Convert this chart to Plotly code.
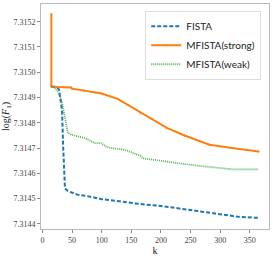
import plotly.graph_objects as go

k_fista = [15, 20, 25, 28, 30, 33, 35, 37, 38, 43, 50, 60, 76, 100, 130, 160, 204, 250, 288, 332, 365]
v_fista = [7.314944, 7.314943, 7.31494, 7.31493, 7.31490, 7.31485, 7.31470, 7.31460, 7.31454,
           7.31453, 7.314523, 7.314515, 7.31451, 7.314498, 7.31449, 7.31448, 7.31447, 7.314455,
           7.31444, 7.314428, 7.314424]

k_strong = [15, 15, 25, 35, 48, 50, 70, 90, 100, 127, 145, 165, 185, 210, 240, 282, 320, 365]
v_strong = [7.31523, 7.314944, 7.314942, 7.314942, 7.31494, 7.314935, 7.314928, 7.31492, 7.314916,
            7.314895, 7.31487, 7.31484, 7.314815, 7.31478, 7.31475, 7.314713, 7.3147, 7.314687]

k_weak = [15, 20, 25, 29, 33, 38, 43, 50, 60, 71, 80, 88, 99, 108, 115, 130, 143, 155, 165, 171,
          204, 230, 260, 290, 321, 340, 365]
v_weak = [7.314944, 7.31494, 7.314925, 7.31491, 7.31488, 7.31482, 7.31476, 7.314752, 7.314745,
          7.31474, 7.31473, 7.31472, 7.31472, 7.314705, 7.3147, 7.314697, 7.31469, 7.31468,
          7.31467, 7.314659, 7.31465, 7.31464, 7.314631, 7.314623, 7.314616, 7.314616, 7.314616]

x_ticks = [0, 50, 100, 150, 200, 250, 300, 350]
y_ticks = [7.3144, 7.3145, 7.3146, 7.3147, 7.3148, 7.3149, 7.3150, 7.3151, 7.3152]
y_tick_text = ["7.3144", "7.3145", "7.3146", "7.3147", "7.3148", "7.3149", "7.3150", "7.3151", "7.3152"]

fig = go.Figure()
fig.add_trace(go.Scatter(x=k_fista, y=v_fista, name="FISTA", mode="lines",
                         line=dict(color="#1f77b4", width=2, dash="4px,2px")))
fig.add_trace(go.Scatter(x=k_strong, y=v_strong, name="MFISTA(strong)", mode="lines+markers",
                         line=dict(color="#ff7f0e", width=2),
                         marker=dict(size=2, color="#ff7f0e")))
fig.add_trace(go.Scatter(x=k_weak, y=v_weak, name="MFISTA(weak)", mode="lines",
                         line=dict(color="rgba(44,160,44,0.8)", width=1.8, dash="1px,1px")))

axis_common = dict(showline=True, mirror=True, linecolor="#bbbbbb", linewidth=1,
                   showgrid=False, zeroline=False, ticks="outside", ticklen=3,
                   tickcolor="#888888", tickfont=dict(family="Liberation Serif", size=8, color="#444"))

fig.update_layout(
    width=273, height=257,
    margin=dict(l=40, r=3, t=3, b=24),
    plot_bgcolor="white", paper_bgcolor="white",
    xaxis=dict(range=[-2.5, 382.5], tickvals=x_ticks,
               title=dict(text="k", font=dict(family="Liberation Serif", size=10, color="#222"), standoff=2),
               **axis_common),
    yaxis=dict(range=[7.31438, 7.31527], tickvals=y_ticks, ticktext=y_tick_text,
               title=dict(text="log(<i>F</i><sub>1</sub>)", font=dict(family="Liberation Serif", size=10, color="#222"), standoff=3),
               **axis_common),
    legend=dict(x=0.966, y=0.97, xanchor="right", yanchor="top",
                bgcolor="rgba(255,255,255,0.8)", bordercolor="#dddddd", borderwidth=1,
                font=dict(family="Lato", size=10, color="#222"),
                itemwidth=30, tracegroupgap=0),
    showlegend=True,
    hovermode=False,
)

fig.write_html("out.html", config={"displayModeBar": False, "staticPlot": True},
               post_script="document.body.style.margin='0';document.body.style.overflow='hidden';")
